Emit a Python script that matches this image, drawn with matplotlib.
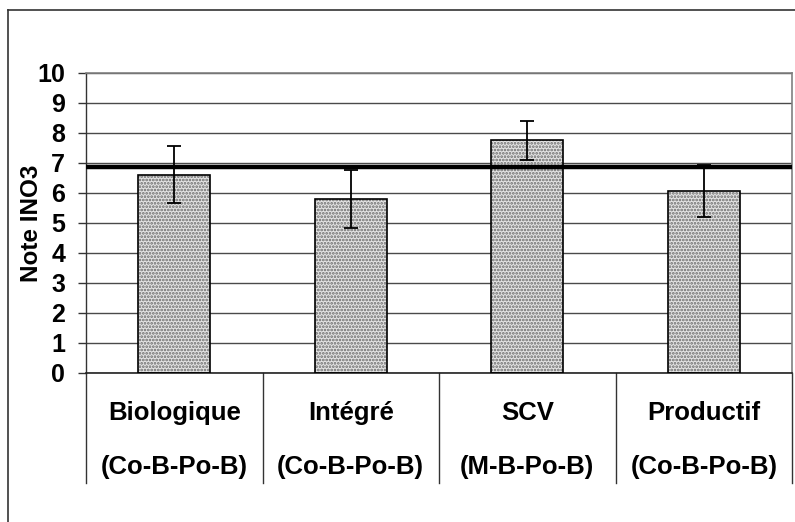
import matplotlib
matplotlib.use("Agg")
import matplotlib.pyplot as plt
from matplotlib.lines import Line2D

plt.rcParams['font.family'] = ['Liberation Sans', 'DejaVu Sans']
plt.rcParams['font.weight'] = 'bold'
plt.rcParams['hatch.linewidth'] = 1.3

systems = ["Biologique", "Intégré", "SCV", "Productif"]
rotations = ["(Co-B-Po-B)", "(Co-B-Po-B)", "(M-B-Po-B)", "(Co-B-Po-B)"]
ino3_scores = [6.6, 5.8, 7.75, 6.05]
ino3_errors = [0.95, 0.98, 0.64, 0.87]
threshold = 6.87
y_ticks = list(range(0, 11))

fig = plt.figure(figsize=(7.95, 5.22), dpi=100)
ax = fig.add_axes([86 / 795, 1 - 372.7 / 522, (792 - 86) / 795, (372.7 - 73) / 522])

x = list(range(len(systems)))

# Dotted fill, then a plain black outline on top
ax.bar(x, ino3_scores, width=0.41, color="#e4e4e4", edgecolor="#6a6a6a",
       hatch=".....", linewidth=0, zorder=2)
ax.bar(x, ino3_scores, width=0.41, fill=False, edgecolor="black",
       linewidth=1.2, zorder=3)
ax.errorbar(x, ino3_scores, yerr=ino3_errors, fmt="none", ecolor="black",
            elinewidth=1.3, capsize=4.7, capthick=1.3, zorder=4)

ax.axhline(threshold, color="black", linewidth=3.2, zorder=5)

ax.set_xlim(-0.5, len(systems) - 0.5)
ax.set_ylim(0, 10)
ax.set_yticks(y_ticks)
ax.yaxis.grid(True, color="#4a4a4a", linewidth=1.0, zorder=0)
ax.set_axisbelow(True)
ax.tick_params(axis="y", direction="out", length=6, width=1, pad=9,
               labelsize=18, color="#333333")
for lbl in ax.get_yticklabels():
    lbl.set_fontweight("bold")
ax.tick_params(axis="x", length=0, labelbottom=False)

ax.set_ylabel("Note INO3", fontsize=17.5, fontweight="bold")
ax.yaxis.set_label_coords(-(86 - 43) / 706, 0.5)

for side in ("top", "right"):
    ax.spines[side].set_color("#808080")
    ax.spines[side].set_linewidth(1.2)
ax.spines["left"].set_color("#333333")
ax.spines["bottom"].set_color("#222222")
ax.spines["left"].set_linewidth(1.0)
ax.spines["bottom"].set_linewidth(1.2)

# Category table below the axis
trans = ax.get_xaxis_transform()
table_bottom = -(483 - 372.7) / (372.7 - 73)
for xs in [i - 0.5 for i in range(len(systems) + 1)]:
    ax.add_line(Line2D([xs, xs], [0, table_bottom], transform=trans,
                       color="#333333", linewidth=1.0, clip_on=False))
row1 = -(412.7 - 372.7) / (372.7 - 73)
row2 = -(467.3 - 372.7) / (372.7 - 73)
for xi, name, rot in zip(x, systems, rotations):
    ax.text(xi, row1, name, transform=trans, ha="center", va="center",
            fontsize=18.5, fontweight="bold")
    ax.text(xi, row2, rot, transform=trans, ha="center", va="center",
            fontsize=18.5, fontweight="bold")

# Outer frame (left and top edges)
fig.add_artist(Line2D([8 / 795, 8 / 795], [0, 1 - 10 / 522], transform=fig.transFigure,
                      color="#333333", linewidth=1.2))
fig.add_artist(Line2D([8 / 795, 1], [1 - 10 / 522, 1 - 10 / 522], transform=fig.transFigure,
                      color="#333333", linewidth=1.2))

fig.savefig("out.png", dpi=100)
